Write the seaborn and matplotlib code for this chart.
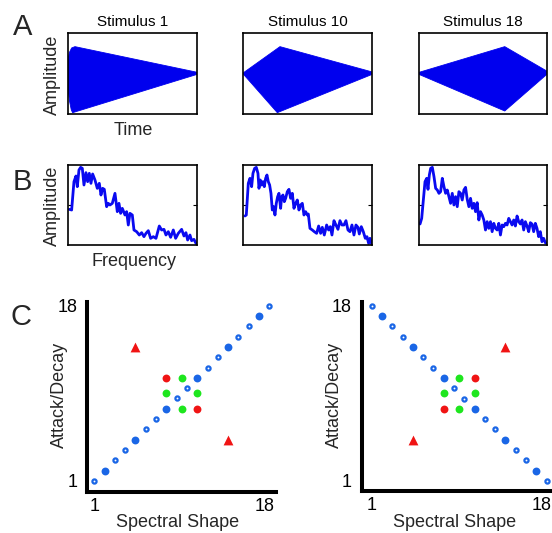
import numpy as np
import pandas as pd
import matplotlib
matplotlib.use("Agg")
import matplotlib.pyplot as plt
import matplotlib.transforms as mtransforms
import seaborn as sns

# ---------------- data ----------------
stim_titles = ["Stimulus 1", "Stimulus 10", "Stimulus 18"]

# Panel A: amplitude envelopes (time units 0..387, amplitude units -122..120)
wave1_top_t = [-2, 3, 10, 20, 387]
wave1_top = [35, 62, 76, 80, 3]
wave1_bot_t = [-2, 4, 9, 13, 387]
wave1_bot = [-40, -85, -110, -118, -3]

wave10_top_t = [-2, 110, 387]
wave10_top = [0, 80, 4]
wave10_bot_t = [-2, 102, 387]
wave10_bot = [0, -118, -3]

wave18_top_t = [-2, 259, 387]
wave18_top = [2, 80, 6]
wave18_bot_t = [-2, 259, 387]
wave18_bot = [-2, -113, -2]

# Panel B: spectra (frequency units 0..387, amplitude units 0..240)
spec1_freq = [3, 10, 17, 23, 27, 32, 37, 42, 47, 53, 58, 63, 68, 73, 80, 87, 93, 98, 103, 108,
              115, 120, 125, 132, 140, 147, 152, 157, 162, 170, 175, 180, 185, 192, 197, 205, 213, 220, 227, 233,
              240, 247, 255, 263, 273, 280, 287, 293, 300, 307, 315, 322, 330, 340, 347, 353, 358, 365, 370, 377,
              383, 387]
spec1_amp = [107, 105, 190, 207, 175, 225, 233, 230, 180, 217, 190, 215, 185, 213, 195, 170, 185, 150, 170, 167,
             115, 125, 120, 125, 155, 100, 125, 95, 110, 90, 100, 60, 95, 90, 45, 40, 30, 37, 25, 35,
             43, 20, 25, 20, 57, 45, 47, 30, 40, 23, 45, 20, 35, 47, 27, 37, 15, 30, 13, 17,
             5, 3]

spec10_freq = [5, 9, 15, 20, 25, 29, 34, 39, 44, 47, 51, 55, 59, 63, 67, 71, 75, 79, 83, 87,
               91, 95, 99, 103, 107, 112, 115, 119, 123, 127, 132, 137, 142, 147, 152, 157, 162, 167, 172, 177,
               182, 187, 192, 195, 200, 207, 213, 220, 226, 232, 237, 243, 250, 256, 261, 266, 272, 278, 284, 290,
               296, 302, 308, 314, 320, 326, 332, 338, 344, 348, 354, 360, 366, 371, 376, 380, 385]
spec10_amp = [87, 90, 185, 200, 175, 215, 230, 233, 215, 170, 195, 180, 190, 175, 200, 210, 190, 180, 155, 105,
              115, 90, 125, 145, 155, 110, 145, 150, 130, 140, 160, 167, 140, 155, 110, 125, 135, 105, 120, 125,
              90, 100, 90, 93, 50, 45, 40, 35, 57, 35, 53, 30, 60, 45, 55, 30, 73, 60, 47, 73,
              60, 60, 73, 45, 40, 60, 30, 60, 53, 33, 55, 40, 20, 25, 5, 20, 3]

spec18_freq = [4, 9, 14, 19, 24, 28, 32, 36, 41, 46, 51, 56, 61, 66, 71, 76, 81, 86, 91, 96,
               101, 106, 111, 116, 121, 126, 131, 136, 141, 146, 151, 156, 161, 166, 171, 176, 181, 186, 191, 196,
               201, 206, 211, 216, 221, 226, 231, 236, 241, 246, 251, 256, 261, 266, 271, 276, 281, 286, 291, 296,
               301, 306, 311, 316, 321, 326, 331, 336, 341, 346, 351, 356, 361, 366, 371, 376, 381, 386]
spec18_amp = [63, 80, 135, 190, 200, 167, 210, 230, 233, 205, 170, 165, 155, 160, 200, 175, 155, 165, 145, 125,
              155, 120, 145, 115, 160, 155, 135, 165, 173, 137, 115, 140, 110, 125, 100, 127, 75, 100, 90, 75,
              45, 70, 50, 70, 40, 65, 50, 45, 65, 30, 60, 55, 65, 60, 80, 70, 60, 75, 57, 87,
              70, 63, 75, 45, 70, 57, 40, 67, 63, 40, 65, 50, 25, 40, 10, 20, 7, 5]

# Panel C: stimulus space (Spectral Shape, Attack/Decay)
tick_vals = [1, 18]
tick_labels = ["1", "18"]
# left panel
L_blue_filled_x = [2, 5, 8, 11, 14, 17]
L_blue_filled_y = [2, 5, 8, 11, 14, 17]
L_blue_open_x = [1, 3, 4, 6, 7, 9, 10, 12, 13, 15, 16, 18]
L_blue_open_y = [1, 3, 4, 6, 7, 9, 10, 12, 13, 15, 16, 18]
L_green_x = [8, 9.5, 9.5, 11]
L_green_y = [9.5, 8, 11, 9.5]
L_red_x = [8, 11]
L_red_y = [11, 8]
L_tri_x = [5, 14]
L_tri_y = [14, 5]
# right panel
R_blue_filled_x = [2, 5, 8, 11, 14, 17]
R_blue_filled_y = [17, 14, 11, 8, 5, 2]
R_blue_open_x = [1, 3, 4, 6, 7, 9, 10, 12, 13, 15, 16, 18]
R_blue_open_y = [18, 16, 15, 13, 12, 10, 9, 7, 6, 4, 3, 1]
R_green_x = [8, 9.5, 9.5, 11]
R_green_y = [9.5, 11, 8, 9.5]
R_red_x = [8, 11]
R_red_y = [8, 11]
R_tri_x = [5, 14]
R_tri_y = [5, 14]

# ---------------- style ----------------
sns.set_theme(style="white")
plt.rcParams['font.family'] = ['Liberation Sans', 'DejaVu Sans']

W, H = 552, 533
DPI = 100
fig = plt.figure(figsize=(W / DPI, H / DPI), dpi=DPI)


def rect(x0, y0, x1, y1):
    return [x0 / W, 1 - y1 / H, (x1 - x0) / W, (y1 - y0) / H]


WAVE_BLUE = "#0000ee"
LINE_BLUE = "#0a0af0"
DOT_BLUE = "#1a66e6"
RED = "#f01414"
GREEN = "#1ee61e"

col_x = [(68.3, 197.3), (243.3, 372.3), (418.7, 547.3)]

waves = [
    (wave1_top_t, wave1_top, wave1_bot_t, wave1_bot),
    (wave10_top_t, wave10_top, wave10_bot_t, wave10_bot),
    (wave18_top_t, wave18_top, wave18_bot_t, wave18_bot),
]
specs = [(spec1_freq, spec1_amp), (spec10_freq, spec10_amp), (spec18_freq, spec18_amp)]

for i, (x0, x1) in enumerate(col_x):
    # Panel A
    ax = fig.add_axes(rect(x0, 33.3, x1, 114))
    tt, top, bt, bot = waves[i]
    xs = list(tt) + list(bt)[::-1]
    ys = list(top) + list(bot)[::-1]
    ax.fill(xs, ys, color=WAVE_BLUE, lw=0.6)
    ax.set_xlim(0, 387)
    ax.set_ylim(-122, 120)
    ax.set_xticks([])
    ax.set_yticks([])
    for s in ax.spines.values():
        s.set_visible(True)
        s.set_color("black")
        s.set_linewidth(1.2)
    ax.set_title(stim_titles[i], fontsize=11, pad=5, color="black")

    # Panel B
    axb = fig.add_axes(rect(x0, 165, x1, 245))
    f, a = specs[i]
    df = pd.DataFrame({"freq": f, "amp": a})
    sns.lineplot(data=df, x="freq", y="amp", ax=axb, color=LINE_BLUE, linewidth=2.0,
                 estimator=None, sort=False)
    axb.set_xlim(0, 387)
    axb.set_ylim(0, 240)
    axb.set_xticks([])
    axb.set_yticks([120])
    axb.tick_params(axis="y", direction="in", length=3, width=0.8, left=True, right=True,
                    labelleft=False, labelright=False, color="black")
    axb.set_xlabel("")
    axb.set_ylabel("")
    for s in axb.spines.values():
        s.set_visible(True)
        s.set_color("black")
        s.set_linewidth(1.2)

# labels for A and B
fig.text(13 / W, 1 - 35 / H, "A", fontsize=21, ha="left", va="baseline")
fig.text(13 / W, 1 - 190 / H, "B", fontsize=21, ha="left", va="baseline")
fig.text(10 / W, 1 - 325 / H, "C", fontsize=21, ha="left", va="baseline")
fig.text(52.5 / W, 1 - 75 / H, "Amplitude", fontsize=13, rotation=90, ha="center", va="center")
fig.text(133.3 / W, 1 - 135 / H, "Time", fontsize=13, ha="center", va="baseline")
fig.text(52.5 / W, 1 - 206 / H, "Amplitude", fontsize=13, rotation=90, ha="center", va="center")
fig.text(133.7 / W, 1 - 266 / H, "Frequency", fontsize=13, ha="center", va="baseline")

# Panel C
c_specs = [
    dict(rect=(87.3, 302, 276, 492), xlim=(0.32, 18.65), ylim=(-0.07, 18.36),
         bf=(L_blue_filled_x, L_blue_filled_y), bo=(L_blue_open_x, L_blue_open_y),
         g=(L_green_x, L_green_y), r=(L_red_x, L_red_y), t=(L_tri_x, L_tri_y),
         ylab_x=59, xlab_x=177.5),
    dict(rect=(361.7, 302, 551.7, 491), xlim=(0.03, 18.49), ylim=(0.03, 18.36),
         bf=(R_blue_filled_x, R_blue_filled_y), bo=(R_blue_open_x, R_blue_open_y),
         g=(R_green_x, R_green_y), r=(R_red_x, R_red_y), t=(R_tri_x, R_tri_y),
         ylab_x=334, xlab_x=455),
]

for cs in c_specs:
    ax = fig.add_axes(rect(*cs["rect"]))
    sns.scatterplot(x=cs["bo"][0], y=cs["bo"][1], ax=ax, marker="o", s=9,
                    color="white", edgecolor=DOT_BLUE, linewidth=1.6, zorder=3)
    sns.scatterplot(x=cs["bf"][0], y=cs["bf"][1], ax=ax, marker="o", s=32,
                    color=DOT_BLUE, edgecolor=DOT_BLUE, linewidth=0, zorder=3)
    sns.scatterplot(x=cs["g"][0], y=cs["g"][1], ax=ax, marker="o", s=32,
                    color=GREEN, edgecolor=GREEN, linewidth=0, zorder=3)
    sns.scatterplot(x=cs["r"][0], y=cs["r"][1], ax=ax, marker="o", s=32,
                    color=RED, edgecolor=RED, linewidth=0, zorder=3)
    sns.scatterplot(x=cs["t"][0], y=cs["t"][1], ax=ax, marker="^", s=50,
                    color=RED, edgecolor=RED, linewidth=0, zorder=3)
    ax.set_xlim(*cs["xlim"])
    ax.set_ylim(*cs["ylim"])
    ax.set_xticks(tick_vals)
    ax.set_xticklabels(tick_labels, fontsize=13)
    ax.set_yticks(tick_vals)
    ax.set_yticklabels(tick_labels, fontsize=13)
    ax.tick_params(axis="x", length=0, pad=4.5, colors="black")
    ax.tick_params(axis="y", length=0, pad=7, colors="black")
    # nudge the "18" x tick label slightly left, as in the reference
    shift = mtransforms.ScaledTranslation(-5 / DPI, 0, fig.dpi_scale_trans)
    lbl = ax.get_xticklabels()[-1]
    lbl.set_transform(lbl.get_transform() + shift)
    for side in ["top", "right"]:
        ax.spines[side].set_visible(False)
    for side in ["left", "bottom"]:
        ax.spines[side].set_visible(True)
        ax.spines[side].set_color("black")
        ax.spines[side].set_linewidth(2.9)
    ax.set_xlabel("")
    ax.set_ylabel("")
    fig.text(cs["ylab_x"] / W, 1 - 395 / H, "Attack/Decay", fontsize=13, rotation=90,
             ha="center", va="center")
    fig.text(cs["xlab_x"] / W, 1 - 527 / H, "Spectral Shape", fontsize=13,
             ha="center", va="baseline")

fig.savefig("out.png", dpi=DPI, facecolor="white")
